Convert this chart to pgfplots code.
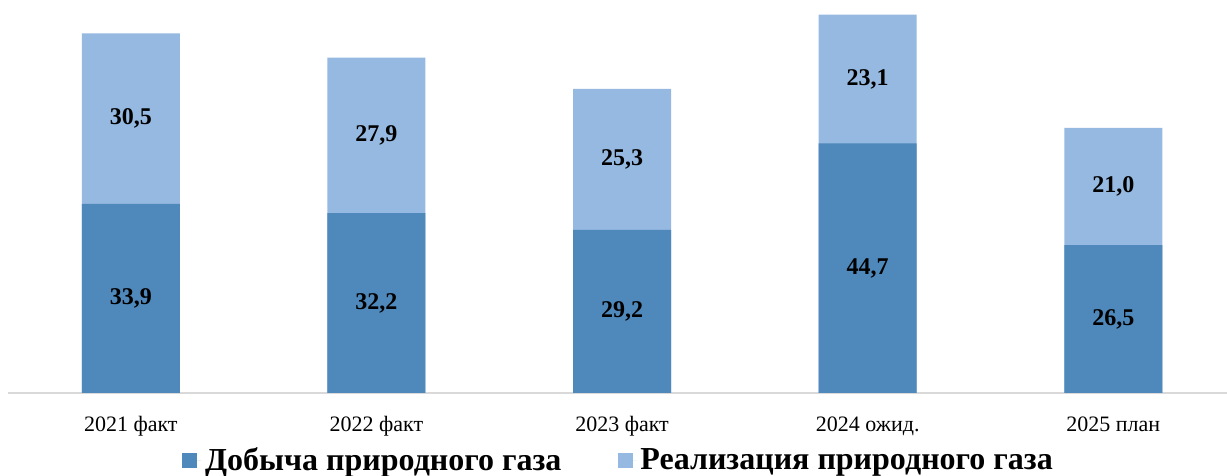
\documentclass[border=0pt]{standalone}
\usepackage{fontspec}
\setmainfont{Liberation Serif}
\usepackage{pgfplots}
\usepackage{pgfplotstable}
\pgfplotsset{compat=1.18}
\definecolor{dark}{HTML}{4F88BB}
\definecolor{light}{HTML}{95B9E0}
\pgfplotstableread{
x low total
0 33.9 64.4
1 32.2 60.1
2 29.2 54.5
3 44.7 67.8
4 26.5 47.5
}\bars
\pgfplotstableread{
x y lab
0 16.95 33,9
1 16.1 32,2
2 14.6 29,2
3 22.35 44,7
4 13.25 26,5
}\lowlab
\pgfplotstableread{
x y lab
0 49.15 30,5
1 46.15 27,9
2 41.85 25,3
3 56.25 23,1
4 37.0 21,0
}\highlab
\begin{document}
\begin{tikzpicture}
\begin{axis}[
  at={(0,0)}, anchor=south west,
  scale only axis,
  width=609.5pt, height=196.5pt,
  xmin=-0.5, xmax=4.463,
  ymin=0, ymax=70.4,
  hide y axis,
  axis x line*=bottom,
  x axis line style={draw=black!15, line width=1pt},
  xtick={0,1,2,3,4},
  xticklabels={2021 факт,2022 факт,2023 факт,2024 ожид.,2025 план},
  major tick length=0pt,
  xticklabel style={anchor=base, yshift=-19.2pt, font=\fontsize{11}{13}\selectfont},
  legend columns=2,
  legend style={at={(0.5,0)}, anchor=center, yshift=-34pt, xshift=1pt, draw=none, fill=none,
    font=\fontsize{16}{18}\selectfont\bfseries,
    /tikz/every even column/.append style={column sep=26pt}},
  legend image code/.code={\fill[#1, draw=none] (0pt,-3.4pt) rectangle (7.5pt,4.1pt);
    \path (0pt,0pt) -- (9.5pt,0pt);},
  clip=false,
]
\addlegendimage{fill=dark, draw=none}
\addlegendentry{Добыча природного газа}
\addlegendimage{fill=light, draw=none}
\addlegendentry{Реализация природного газа}
\addplot[ybar, bar width=49pt, bar shift=0pt, fill=light, draw=none, forget plot] table[x=x,y=total]{\bars};
\addplot[ybar, bar width=49pt, bar shift=0pt, fill=dark, draw=none, forget plot] table[x=x,y=low]{\bars};
\addplot[only marks, mark=none, forget plot, nodes near coords, point meta=explicit symbolic,
  nodes near coords align=center,
  every node near coord/.append style={font=\fontsize{12}{14}\selectfont\bfseries, anchor=center}]
  table[x=x,y=y,meta=lab]{\lowlab};
\addplot[only marks, mark=none, forget plot, nodes near coords, point meta=explicit symbolic,
  nodes near coords align=center,
  every node near coord/.append style={font=\fontsize{12}{14}\selectfont\bfseries, anchor=center}]
  table[x=x,y=y,meta=lab]{\highlab};
\end{axis}
\pgfresetboundingbox
\path (-4pt,-41.5pt) rectangle (609.5pt,196.5pt);
\end{tikzpicture}
\end{document}
